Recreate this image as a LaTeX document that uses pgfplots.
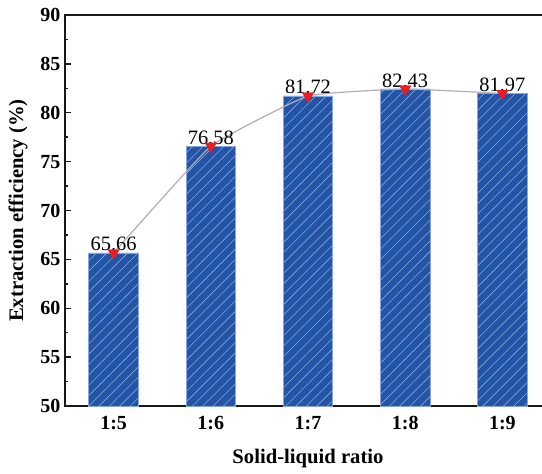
\documentclass[border=0pt]{standalone}
\usepackage{fontspec}
\setmainfont{Liberation Serif}
\usepackage{pgfplots}
\pgfplotsset{compat=1.18}
\usetikzlibrary{patterns.meta}
\definecolor{barblue}{RGB}{35,84,165}
\definecolor{hatch}{RGB}{135,165,222}
\definecolor{linegray}{RGB}{175,175,175}
\definecolor{mred}{RGB}{236,28,36}
\definecolor{axk}{RGB}{25,25,25}
\begin{document}
\begin{tikzpicture}
\useasboundingbox (-48.75pt,-51pt) rectangle (357.75pt,304.5pt);
\clip (-48.75pt,-51pt) rectangle (357.75pt,304.5pt);
\begin{axis}[
  at={(0pt,0pt)}, anchor=south west,
  scale only axis, width=364.5pt, height=293.25pt,
  xmin=-0.5, xmax=4.5, ymin=50, ymax=90,
  xtick={0,1,2,3,4}, xticklabels={1:5,1:6,1:7,1:8,1:9},
  ytick={50,55,...,90}, minor y tick num=1,
  xtick style={draw=none},
  ytick pos=left, tick align=inside,
  major tick length=4.5pt, minor tick length=2.6pt,
  ytick style={line width=1.1pt, axk},
  axis line style={line width=1.5pt, axk},
  /pgf/number format/assume math mode=true,
  ticklabel style={font=\fontsize{15}{15}\selectfont\bfseries},
  xticklabel style={yshift=-4pt},
  every axis y label/.style={at={(axis description cs:0,0.5)}, xshift=-35.25pt, rotate=90, anchor=center, font=\fontsize{15.5}{15.5}\selectfont\bfseries},
  every axis x label/.style={at={(axis description cs:0.5,0)}, yshift=-39.5pt, anchor=center, font=\fontsize{15.5}{15.5}\selectfont\bfseries},
  xlabel={Solid-liquid ratio},
  ylabel={Extraction efficiency (\%)},
  clip=false,
]
\addplot[ybar, bar width=0.51, fill=barblue, draw=hatch, line width=0.5pt,
  postaction={pattern={Lines[angle=45,distance=5.5pt,line width=0.45pt]}, pattern color=hatch},
  nodes near coords, point meta=explicit symbolic,
  every node near coord/.append style={font=\fontsize{15.3}{15.3}\selectfont, black, anchor=south, inner sep=1pt}]
  coordinates {(0,65.66)[65.66] (1,76.58)[76.58] (2,81.72)[81.72] (3,82.43)[82.43] (4,81.97)[81.97]};
\addplot[linegray, line width=0.9pt, smooth, tension=0.2, mark=triangle*, mark size=5pt,
  mark options={rotate=180, fill=mred, draw=mred, line width=0.2pt}]
  coordinates {(0,65.66) (1,76.58) (2,81.72) (3,82.43) (4,81.97)};
\fill[axk] ([shift={(-0.8pt,-0.8pt)}]rel axis cs:0,0) rectangle ([shift={(0.8pt,0.8pt)}]rel axis cs:0,1);
\fill[axk] ([shift={(-0.8pt,-0.8pt)}]rel axis cs:0,1) rectangle ([shift={(0.8pt,0.8pt)}]rel axis cs:1,1);
\end{axis}
\end{tikzpicture}
\end{document}
